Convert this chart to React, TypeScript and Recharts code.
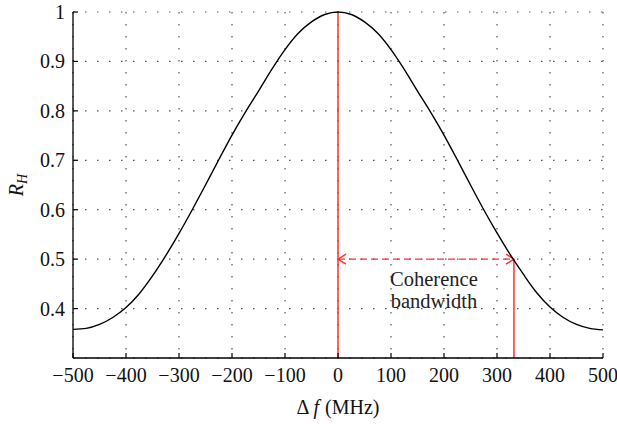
import React from 'react';
import {
  LineChart,
  Line,
  XAxis,
  YAxis,
  CartesianGrid,
  ReferenceLine,
  ReferenceDot,
} from 'recharts';

// Frequency separation (MHz) and normalised frequency correlation R_H
const freqMHz = [
  -500, -475, -450, -425, -400, -375, -350, -325, -300, -275, -250, -225, -200, -175, -150, -125, -100, -75, -50, -25,
  0, 25, 50, 75, 100, 125, 150, 175, 200, 225, 250, 275, 300, 325, 350, 375, 400, 425, 450, 475, 500,
];
const correlation = [
  0.358, 0.36, 0.368, 0.382, 0.402, 0.43, 0.466, 0.507, 0.552, 0.6, 0.65, 0.701, 0.751, 0.797, 0.84, 0.884, 0.924, 0.957, 0.98, 0.995,
  1.0, 0.995, 0.98, 0.957, 0.924, 0.884, 0.84, 0.797, 0.751, 0.701, 0.65, 0.6, 0.553, 0.509, 0.469, 0.432, 0.403, 0.382, 0.368, 0.36, 0.357,
];

const xTicks = [-500, -400, -300, -200, -100, 0, 100, 200, 300, 400, 500];
const yTicks = [0.4, 0.5, 0.6, 0.7, 0.8, 0.9, 1];
const xDomain = [-500, 500];
const yDomain = [0.3, 1];

// Coherence bandwidth: where R_H drops to one half
const bandwidthMHz = 332;
const halfLevel = 0.5;
const annotationLines = ['Coherence', 'bandwidth'];
const annotationCenterMHz = 181;

const data = freqMHz.map((f, i) => ({ f, rh: correlation[i] }));

const FONT = 'Liberation Serif, DejaVu Serif, serif';
const FONT_SIZE = 20;
const TICK_LEN = 5;
const RED = '#ff3030';
const INK = '#111';

const fmtX = (v: number) => (v < 0 ? '\u2212' + Math.abs(v) : String(v));
const fmtY = (v: number) => String(v);

function BottomTick(props: any) {
  const { x, y, payload } = props;
  return (
    <g>
      <line x1={x} y1={y} x2={x} y2={y - TICK_LEN} stroke="#000" strokeWidth={1.2} />
      <text x={x} y={y + 24} textAnchor="middle" style={{ fontFamily: FONT, fontSize: FONT_SIZE }} fill={INK}>
        {fmtX(payload.value)}
      </text>
    </g>
  );
}

function TopTick(props: any) {
  const { x, y } = props;
  return <line x1={x} y1={y} x2={x} y2={y + TICK_LEN} stroke="#000" strokeWidth={1.2} />;
}

function LeftTick(props: any) {
  const { x, y, payload } = props;
  return (
    <g>
      <line x1={x} y1={y} x2={x + TICK_LEN} y2={y} stroke="#000" strokeWidth={1.2} />
      <text x={x - 8} y={y + 7} textAnchor="end" style={{ fontFamily: FONT, fontSize: FONT_SIZE }} fill={INK}>
        {fmtY(payload.value)}
      </text>
    </g>
  );
}

function RightTick(props: any) {
  const { x, y } = props;
  return <line x1={x} y1={y} x2={x - TICK_LEN} y2={y} stroke="#000" strokeWidth={1.2} />;
}

function YTitle(props: any) {
  const vb = props.viewBox || { x: 0, y: 0, width: 0, height: 0 };
  const cx = vb.x + 23;
  const cy = vb.y + vb.height / 2;
  return (
    <text
      x={cx}
      y={cy}
      transform={`rotate(-90 ${cx} ${cy})`}
      textAnchor="middle"
      style={{ fontFamily: FONT, fontSize: FONT_SIZE, fontStyle: 'italic' }}
      fill={INK}
    >
      R
      <tspan dy={4} style={{ fontSize: 14 }}>
        H
      </tspan>
    </text>
  );
}

function XTitle(props: any) {
  const vb = props.viewBox || { x: 0, y: 0, width: 0, height: 0 };
  const cx = vb.x + vb.width / 2;
  return (
    <text x={cx} y={vb.y + 56} textAnchor="middle" style={{ fontFamily: FONT, fontSize: FONT_SIZE }} fill={INK}>
      {'\u0394'}
      <tspan dx={4} style={{ fontStyle: 'italic' }}>
        f
      </tspan>
      <tspan dx={6}>{'(MHz)'}</tspan>
    </text>
  );
}

// Dashed double-headed arrow spanning the coherence bandwidth
function DoubleArrow(props: any) {
  const { x1, y1, x2, y2 } = props;
  const head = 8;
  const spread = 5;
  return (
    <g>
      <line x1={x1} y1={y1} x2={x2} y2={y2} stroke={RED} strokeWidth={1.4} strokeDasharray="7 4" />
      <polyline
        points={`${x1 + head},${y1 - spread} ${x1},${y1} ${x1 + head},${y1 + spread}`}
        fill="none"
        stroke={RED}
        strokeWidth={1.4}
      />
      <polyline
        points={`${x2 - head},${y2 - spread} ${x2},${y2} ${x2 - head},${y2 + spread}`}
        fill="none"
        stroke={RED}
        strokeWidth={1.4}
      />
    </g>
  );
}

function AnnotationText(props: any) {
  const vb = props.viewBox || { x: 0, y: 0 };
  const cx = vb.x + (vb.width || 0) / 2;
  const cy = vb.y + (vb.height || 0) / 2;
  return (
    <g>
      {annotationLines.map((line, i) => (
        <text
          key={line}
          x={cx}
          y={cy + 27 + i * 22}
          textAnchor="middle"
          style={{ fontFamily: FONT, fontSize: 20.5 }}
          fill="#222"
        >
          {line}
        </text>
      ))}
    </g>
  );
}

export default function App() {
  return (
    <div style={{ position: 'absolute', left: 0, top: 0, background: '#fff' }}>
      <LineChart width={617} height={424} data={data} margin={{ top: 12, right: 14, bottom: 0, left: 0 }}>
        <CartesianGrid stroke="#555" strokeWidth={1.2} strokeDasharray="1.5 10.5" />
        <XAxis
          dataKey="f"
          type="number"
          domain={xDomain}
          ticks={xTicks}
          interval={0}
          height={66}
          tickSize={0}
          tickMargin={0}
          tickLine={false}
          axisLine={{ stroke: '#000', strokeWidth: 1.3 }}
          tick={<BottomTick />}
          label={<XTitle />}
        />
        <XAxis
          xAxisId="top"
          orientation="top"
          dataKey="f"
          type="number"
          domain={xDomain}
          ticks={xTicks}
          interval={0}
          height={0}
          tickSize={0}
          tickMargin={0}
          tickLine={false}
          axisLine={{ stroke: '#000', strokeWidth: 1.3 }}
          tick={<TopTick />}
        />
        <YAxis
          type="number"
          domain={yDomain}
          ticks={yTicks}
          interval={0}
          width={73}
          tickSize={0}
          tickMargin={0}
          tickLine={false}
          axisLine={{ stroke: '#000', strokeWidth: 1.3 }}
          tick={<LeftTick />}
          label={<YTitle />}
        />
        <YAxis
          yAxisId="right"
          orientation="right"
          type="number"
          domain={yDomain}
          ticks={yTicks}
          interval={0}
          width={0}
          tickSize={0}
          tickMargin={0}
          tickLine={false}
          axisLine={{ stroke: '#000', strokeWidth: 1.3 }}
          tick={<RightTick />}
        />
        <ReferenceLine x={0} stroke={RED} strokeWidth={1.5} />
        <ReferenceLine
          segment={[
            { x: bandwidthMHz, y: yDomain[0] },
            { x: bandwidthMHz, y: halfLevel },
          ]}
          stroke={RED}
          strokeWidth={1.5}
        />
        <ReferenceLine
          segment={[
            { x: 0, y: halfLevel },
            { x: bandwidthMHz, y: halfLevel },
          ]}
          shape={<DoubleArrow />}
        />
        <ReferenceDot
          x={annotationCenterMHz}
          y={halfLevel}
          r={0}
          fill="none"
          stroke="none"
          label={<AnnotationText />}
        />
        <Line
          type="monotone"
          dataKey="rh"
          stroke="#000"
          strokeWidth={1.4}
          dot={false}
          isAnimationActive={false}
        />
      </LineChart>
    </div>
  );
}
